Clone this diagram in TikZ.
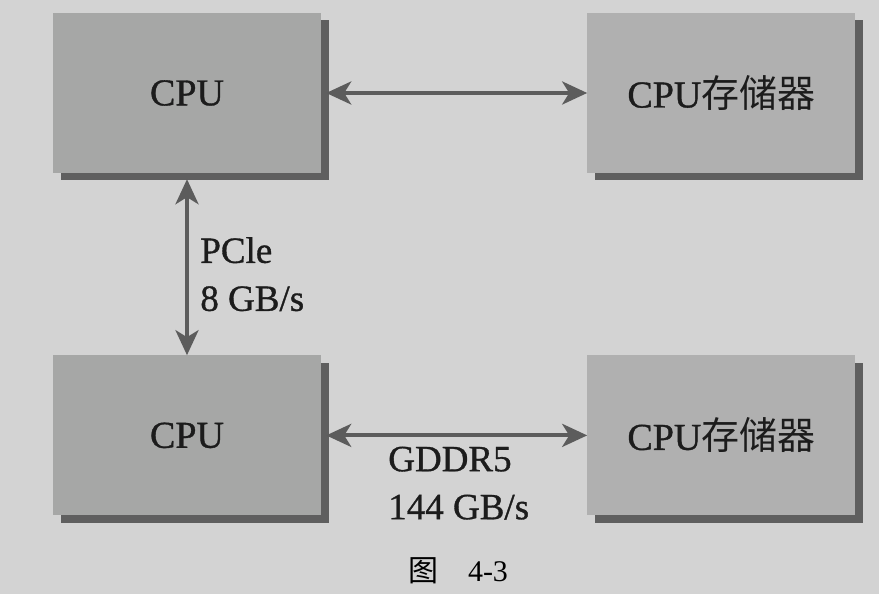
\documentclass[tikz,border=0pt]{standalone}
\usepackage{fontspec}
\setmainfont{Liberation Serif}
\newfontfamily\heavyfont{Liberation Serif}[FakeBold=0.9]
\newfontfamily\cjkfont{Noto Sans CJK SC}
\usetikzlibrary{
  arrows.meta,
  positioning,
  shadows,
}
\definecolor{bggray}{HTML}{D3D3D3}
\definecolor{cpugray}{HTML}{A6A7A6}
\definecolor{memgray}{HTML}{B0B0B0}
\definecolor{shadowgray}{HTML}{5F5F5F}
\definecolor{arrowgray}{HTML}{5C5C5C}
\definecolor{textblack}{HTML}{1C1C1C}
\tikzset{
  >={Stealth[length=25pt, width=23pt, inset=7pt]},
}

\begin{document}
\begin{tikzpicture}[
      x=1pt, y=1pt,
      box/.style={minimum width=268pt, minimum height=160pt, inner sep=0pt, text=textblack,
                  font=\heavyfont\fontsize{38}{40}\selectfont,
                  drop shadow={shadow xshift=7.5pt, shadow yshift=-7.5pt, fill=shadowgray, opacity=1}},
      cpu/.style={box, fill=cpugray},
      mem/.style={box, fill=memgray},
      link/.style={<->, line width=4pt, draw=arrowgray},
      lbl/.style={font=\heavyfont\fontsize{37}{48}\selectfont, align=left, text=textblack},
    ]
      \fill [bggray] (0,0) rectangle (879,594);
      \useasboundingbox (0,0) rectangle (879,594);
      \node [cpu] (cpuTop) at (187,501) {CPU};
      \node [mem, right=266pt of cpuTop] (memTop) {CPU{\cjkfont 存储器}};
      \node [cpu, below=182pt of cpuTop] (cpuBot) {CPU};
      \node [mem, right=266pt of cpuBot] (memBot) {CPU{\cjkfont 存储器}};
      \draw [link] ([xshift=5pt]cpuTop.east) -- (memTop.west);
      \draw [link] ([yshift=-6pt]cpuTop.south) -- (cpuBot.north)
            node [lbl, midway, right, xshift=8pt, yshift=-7pt] {PCle\\8 GB/s};
      \draw [link] ([xshift=5pt]cpuBot.east) -- (memBot.west)
            node [lbl, midway, below, xshift=2pt, yshift=-6pt] {GDDR5\\144 GB/s};
      \node [anchor=base, font=\fontsize{30}{32}\selectfont] (caption) at (458,12) {{\cjkfont 图}\quad 4-3};
    \end{tikzpicture}
\end{document}
